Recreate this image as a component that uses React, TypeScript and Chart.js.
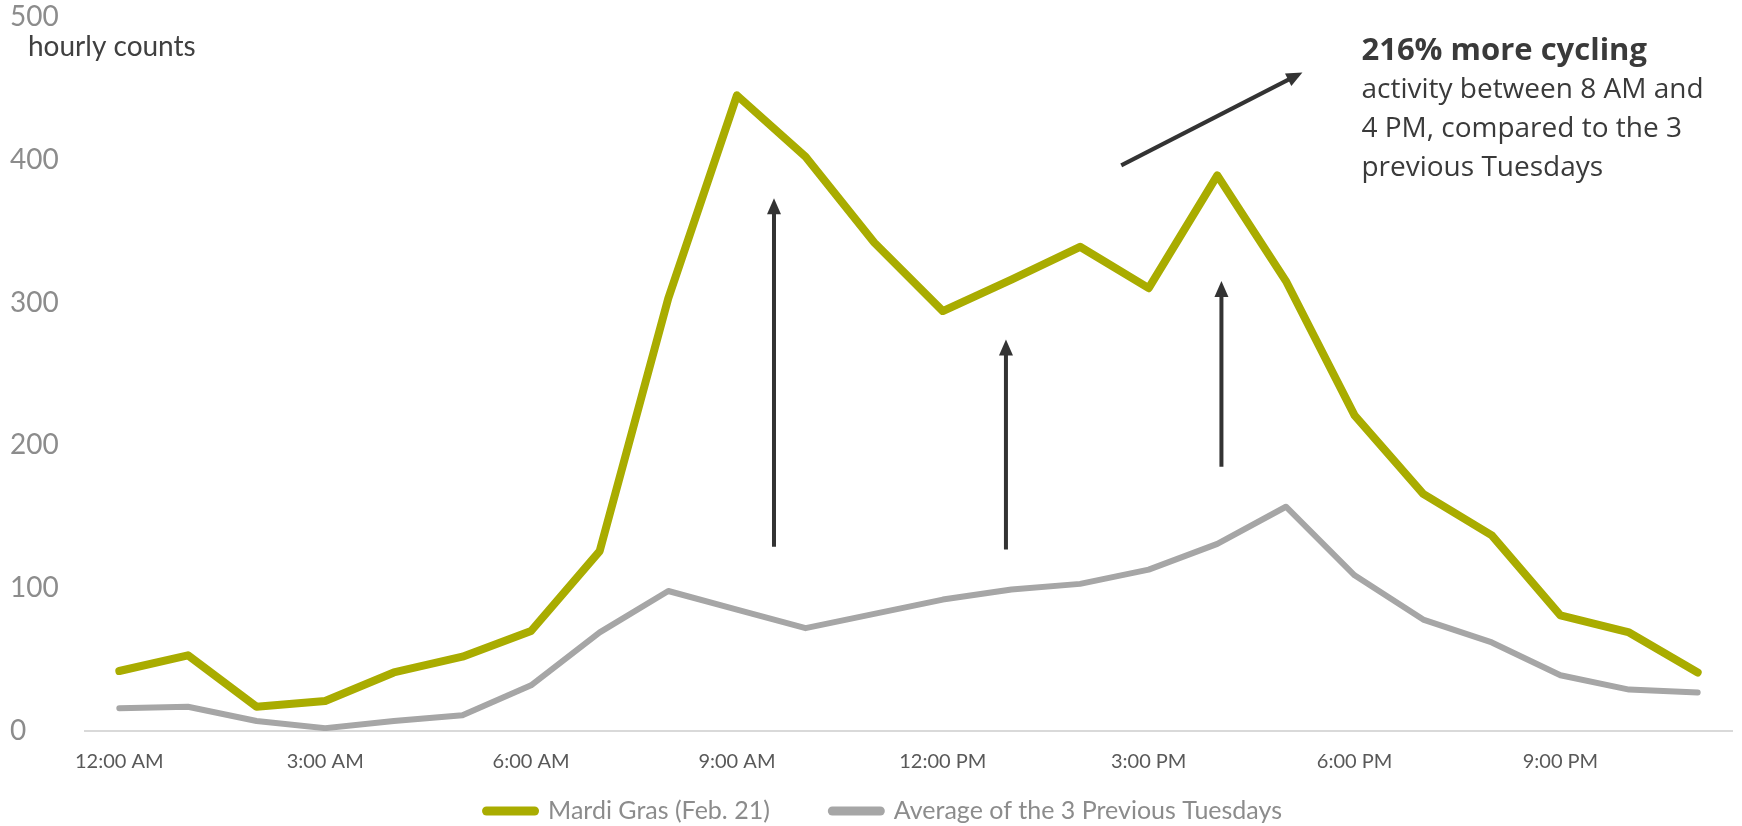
import React, { useEffect, useRef } from 'react';
import { Chart, registerables } from 'chart.js';

Chart.register(...registerables);

// ---- data ----
const hourLabels = [
  '12:00 AM', '1:00 AM', '2:00 AM', '3:00 AM', '4:00 AM', '5:00 AM',
  '6:00 AM', '7:00 AM', '8:00 AM', '9:00 AM', '10:00 AM', '11:00 AM',
  '12:00 PM', '1:00 PM', '2:00 PM', '3:00 PM', '4:00 PM', '5:00 PM',
  '6:00 PM', '7:00 PM', '8:00 PM', '9:00 PM', '10:00 PM', '11:00 PM',
];
const mardiGras = [42, 53, 17, 21, 41, 52, 70, 126, 303, 445, 402, 342, 294, 316, 339, 310, 389, 315, 221, 166, 137, 81, 69, 41];
const previousTuesdays = [16, 17, 7, 2, 7, 11, 32, 69, 98, 85, 72, 82, 92, 99, 103, 113, 131, 157, 109, 78, 62, 39, 29, 27];
const seriesNames = ['Mardi Gras (Feb. 21)', 'Average of the 3 Previous Tuesdays'];
const seriesColors = ['#A9AC00', '#A6A6A6'];
const yAxisTitle = 'hourly counts';
// arrows: from (hour, value) to (hour, value)
const arrowFromHour = [9.54, 12.92, 16.06, 14.6];
const arrowFromValue = [129, 127, 185, 396];
const arrowToHour = [9.54, 12.92, 16.06, 17.24];
const arrowToValue = [373, 274, 315, 461];
const noteLines = ['216% more cycling', 'activity between 8 AM and', '4 PM, compared to the 3', 'previous Tuesdays'];
const noteHour = 18.1;
const noteLineValues = [476, 449, 421.7, 394.4];

const annotationPlugin = {
  id: 'annotations',
  afterDraw(chart: any) {
    const ctx = chart.ctx;
    const xs = chart.scales.x;
    const ys = chart.scales.y;
    ctx.save();

    // y axis title
    ctx.fillStyle = '#404040';
    ctx.font = '28px Lato';
    ctx.textAlign = 'left';
    ctx.textBaseline = 'middle';
    ctx.fillText(yAxisTitle, 28, 47);

    // arrows
    ctx.strokeStyle = '#333333';
    ctx.fillStyle = '#333333';
    ctx.lineWidth = 4;
    for (let i = 0; i < arrowFromHour.length; i++) {
      const x0 = xs.getPixelForValue(arrowFromHour[i]);
      const y0 = ys.getPixelForValue(arrowFromValue[i]);
      const x1 = xs.getPixelForValue(arrowToHour[i]);
      const y1 = ys.getPixelForValue(arrowToValue[i]);
      const ang = Math.atan2(y1 - y0, x1 - x0);
      const headLen = 16;
      const headHalf = 7;
      const bx = x1 - Math.cos(ang) * (headLen - 2);
      const by = y1 - Math.sin(ang) * (headLen - 2);
      ctx.beginPath();
      ctx.moveTo(x0, y0);
      ctx.lineTo(bx, by);
      ctx.stroke();
      const hx = x1 - Math.cos(ang) * headLen;
      const hy = y1 - Math.sin(ang) * headLen;
      ctx.beginPath();
      ctx.moveTo(x1, y1);
      ctx.lineTo(hx + Math.sin(ang) * headHalf, hy - Math.cos(ang) * headHalf);
      ctx.lineTo(hx - Math.sin(ang) * headHalf, hy + Math.cos(ang) * headHalf);
      ctx.closePath();
      ctx.fill();
    }

    // note text
    const nx = xs.getPixelForValue(noteHour);
    ctx.fillStyle = '#3a3a3a';
    ctx.textAlign = 'left';
    ctx.textBaseline = 'middle';
    noteLines.forEach((t, i) => {
      ctx.font = i === 0 ? 'bold 31px "Open Sans"' : '28px "Open Sans"';
      ctx.fillText(t, nx, ys.getPixelForValue(noteLineValues[i]));
    });

    // legend
    const sw = 57, sh = 9, gapText = 9, gapItem = 58;
    ctx.font = '25px Lato';
    const ds = chart.data.datasets;
    let total = 0;
    ds.forEach((d: any, i: number) => {
      total += sw + gapText + ctx.measureText(d.label).width + (i < ds.length - 1 ? gapItem : 0);
    });
    let lx = 882 - total / 2;
    const ly = 811;
    ds.forEach((d: any) => {
      ctx.fillStyle = d.borderColor;
      ctx.beginPath();
      (ctx as any).roundRect(lx, ly - sh / 2, sw, sh, sh / 2);
      ctx.fill();
      lx += sw + gapText;
      ctx.fillStyle = '#8c8c8c';
      ctx.textAlign = 'left';
      ctx.fillText(d.label, lx, ly);
      lx += ctx.measureText(d.label).width + gapItem;
    });
    ctx.restore();
  },
};

export default function App() {
  const ref = useRef<HTMLCanvasElement>(null);
  useEffect(() => {
    if (!ref.current) return;
    const chart = new Chart(ref.current, {
      type: 'line',
      data: {
        labels: hourLabels,
        datasets: [
          {
            label: seriesNames[0],
            data: mardiGras,
            borderColor: seriesColors[0],
            backgroundColor: seriesColors[0],
            borderWidth: 8,
            pointRadius: 0,
            tension: 0,
            borderJoinStyle: 'round',
            borderCapStyle: 'round',
          },
          {
            label: seriesNames[1],
            data: previousTuesdays,
            borderColor: seriesColors[1],
            backgroundColor: seriesColors[1],
            borderWidth: 6,
            pointRadius: 0,
            tension: 0,
            borderJoinStyle: 'round',
            borderCapStyle: 'round',
          },
        ],
      },
      options: {
        responsive: false,
        animation: false,
        devicePixelRatio: 1,
        layout: { padding: { left: 10, right: 10, top: 16, bottom: 0 } },
        plugins: {
          legend: { display: false },
          tooltip: { enabled: false },
        },
        scales: {
          x: {
            type: 'category',
            offset: true,
            grid: { display: false, drawTicks: false },
            border: { display: true, color: '#d9d9d9', width: 2 },
            ticks: {
              autoSkip: false,
              maxRotation: 0,
              padding: 19,
              color: '#595959',
              font: { family: 'Lato', size: 20 },
              callback: (_v: any, i: number) => (i % 3 === 0 ? hourLabels[i] : ''),
            },
            afterFit: (s: any) => { s.height = 95; },
          },
          y: {
            min: 0,
            max: 500,
            grid: { display: false, drawTicks: false },
            border: { display: false },
            ticks: {
              stepSize: 100,
              crossAlign: 'far',
              padding: 0,
              color: '#8c8c8c',
              font: { family: 'Lato', size: 28 },
            },
            afterFit: (s: any) => { s.width = 75; },
          },
        },
      },
      plugins: [annotationPlugin],
    } as any);
    return () => chart.destroy();
  }, []);
  return (
    <div style={{ position: 'fixed', left: 0, top: 0, width: 1742, height: 826, background: '#fff' }}>
      <canvas ref={ref} width={1742} height={826} />
    </div>
  );
}
